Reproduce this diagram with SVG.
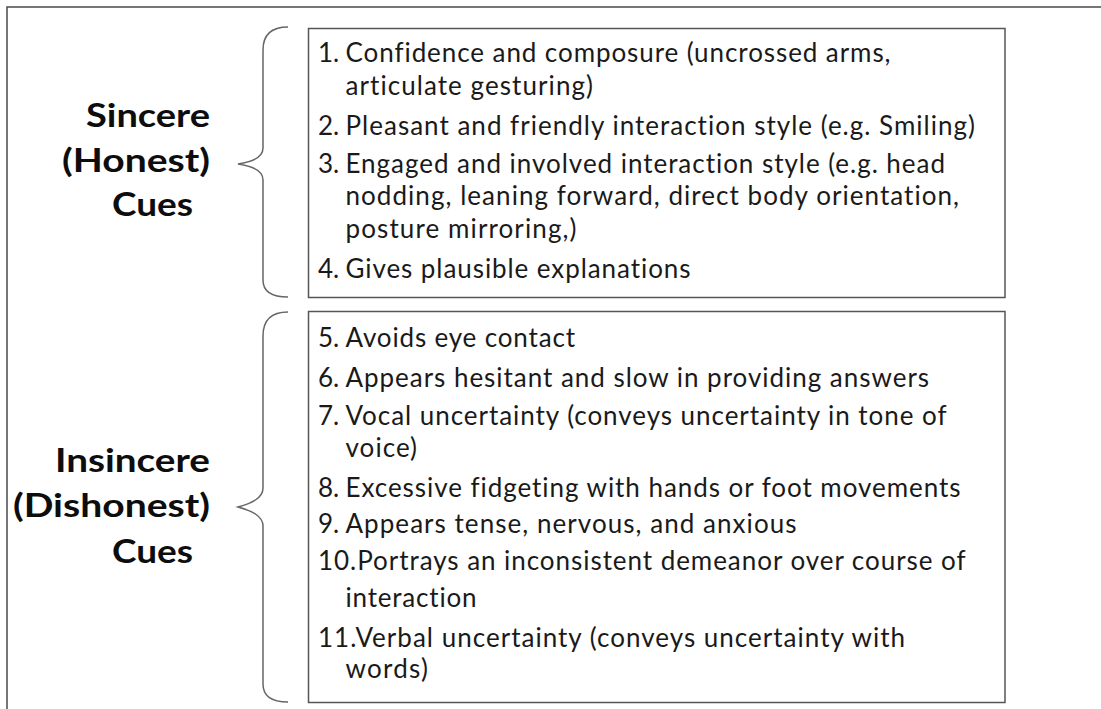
<svg xmlns="http://www.w3.org/2000/svg" width="1101" height="709" viewBox="0 0 1101 709">
  <style>
    .frame { fill: none; stroke: #4a4a4a; stroke-width: 1.5; }
    .box { fill: #ffffff; stroke: #555555; stroke-width: 1.5; }
    .brace { fill: none; stroke: #666666; stroke-width: 1.5; }
    .label { font-family: Lato, "Liberation Sans", sans-serif; font-weight: 700; font-size: 32px; fill: #0d0d0d; text-anchor: end; }
    .item { font-family: Lato, "Liberation Sans", sans-serif; font-size: 26px; fill: #1a1a1a; font-variant-ligatures: none; }
  </style>
  <rect width="1101" height="709" fill="#ffffff"/>

  <!-- outer frame: only the top and left edges are visible -->
  <path class="frame" d="M7,709 V7 H1101"/>

  <!-- sincere cues -->
  <g id="sincere-label">
    <text class="label" x="210" y="127" textLength="124" lengthAdjust="spacingAndGlyphs">Sincere</text>
    <text class="label" x="210" y="172" textLength="148" lengthAdjust="spacingAndGlyphs">(Honest)</text>
    <text class="label" x="193" y="216" textLength="81" lengthAdjust="spacingAndGlyphs">Cues</text>
  </g>

  <g id="sincere-list">
    <rect class="box" x="308.5" y="28.5" width="696.5" height="269"/>
    <text class="item" x="318" y="62">1.</text>
    <text class="item" x="345.5" y="62" textLength="545" lengthAdjust="spacing">Confidence and composure (uncrossed arms,</text>
    <text class="item" x="345.5" y="95" textLength="247.5" lengthAdjust="spacing">articulate gesturing)</text>
    <text class="item" x="318" y="135">2.</text>
    <text class="item" x="345.5" y="135" textLength="629.5" lengthAdjust="spacing">Pleasant and friendly interaction style (e.g. Smiling)</text>
    <text class="item" x="318" y="173">3.</text>
    <text class="item" x="345.5" y="173" textLength="599.5" lengthAdjust="spacing">Engaged and involved interaction style (e.g. head</text>
    <text class="item" x="345.5" y="205" textLength="613.5" lengthAdjust="spacing">nodding, leaning forward, direct body orientation,</text>
    <text class="item" x="345.5" y="238" textLength="231" lengthAdjust="spacing">posture mirroring,)</text>
    <text class="item" x="318" y="278">4.</text>
    <text class="item" x="345.5" y="278" textLength="345" lengthAdjust="spacing">Gives plausible explanations</text>
  </g>

  <!-- insincere cues -->
  <g id="insincere-label">
    <text class="label" x="210" y="472" textLength="155" lengthAdjust="spacingAndGlyphs">Insincere</text>
    <text class="label" x="210" y="517" textLength="197" lengthAdjust="spacingAndGlyphs">(Dishonest)</text>
    <text class="label" x="193" y="563" textLength="81" lengthAdjust="spacingAndGlyphs">Cues</text>
  </g>

  <g id="insincere-list">
    <rect class="box" x="308.5" y="311.5" width="696.5" height="391"/>
    <text class="item" x="318" y="347">5.</text>
    <text class="item" x="345.5" y="347" textLength="229.5" lengthAdjust="spacing">Avoids eye contact</text>
    <text class="item" x="318" y="387">6.</text>
    <text class="item" x="345.5" y="387" textLength="583.5" lengthAdjust="spacing">Appears hesitant and slow in providing answers</text>
    <text class="item" x="318" y="425">7.</text>
    <text class="item" x="345.5" y="425" textLength="601" lengthAdjust="spacing">Vocal uncertainty (conveys uncertainty in tone of</text>
    <text class="item" x="345.5" y="457" textLength="71.5" lengthAdjust="spacing">voice)</text>
    <text class="item" x="318" y="497">8.</text>
    <text class="item" x="345.5" y="497" textLength="615" lengthAdjust="spacing">Excessive fidgeting with hands or foot movements</text>
    <text class="item" x="318" y="533">9.</text>
    <text class="item" x="345.5" y="533" textLength="451" lengthAdjust="spacing">Appears tense, nervous, and anxious</text>
    <text class="item" x="318" y="570" textLength="647.5" lengthAdjust="spacing">10.Portrays an inconsistent demeanor over course of</text>
    <text class="item" x="345.5" y="607" textLength="131" lengthAdjust="spacing">interaction</text>
    <text class="item" x="318" y="647" textLength="587" lengthAdjust="spacing">11.Verbal uncertainty (conveys uncertainty with</text>
    <text class="item" x="345.5" y="678" textLength="82.5" lengthAdjust="spacing">words)</text>
  </g>

  <!-- braces linking each label to its list -->
  <g id="connectors">
    <path class="brace" d="M288,27 C272,27 263,34 263,50 V148 C263,158 252,162 238,164 C252,166 263,170 263,180 V280 C263,292 272,297 288,297"/>
    <path class="brace" d="M288,312 C272,312 263,320 263,336 V488 C263,498 252,503 238,507 C252,511 263,516 263,526 V684 C263,697 272,702 288,702"/>
  </g>
</svg>
